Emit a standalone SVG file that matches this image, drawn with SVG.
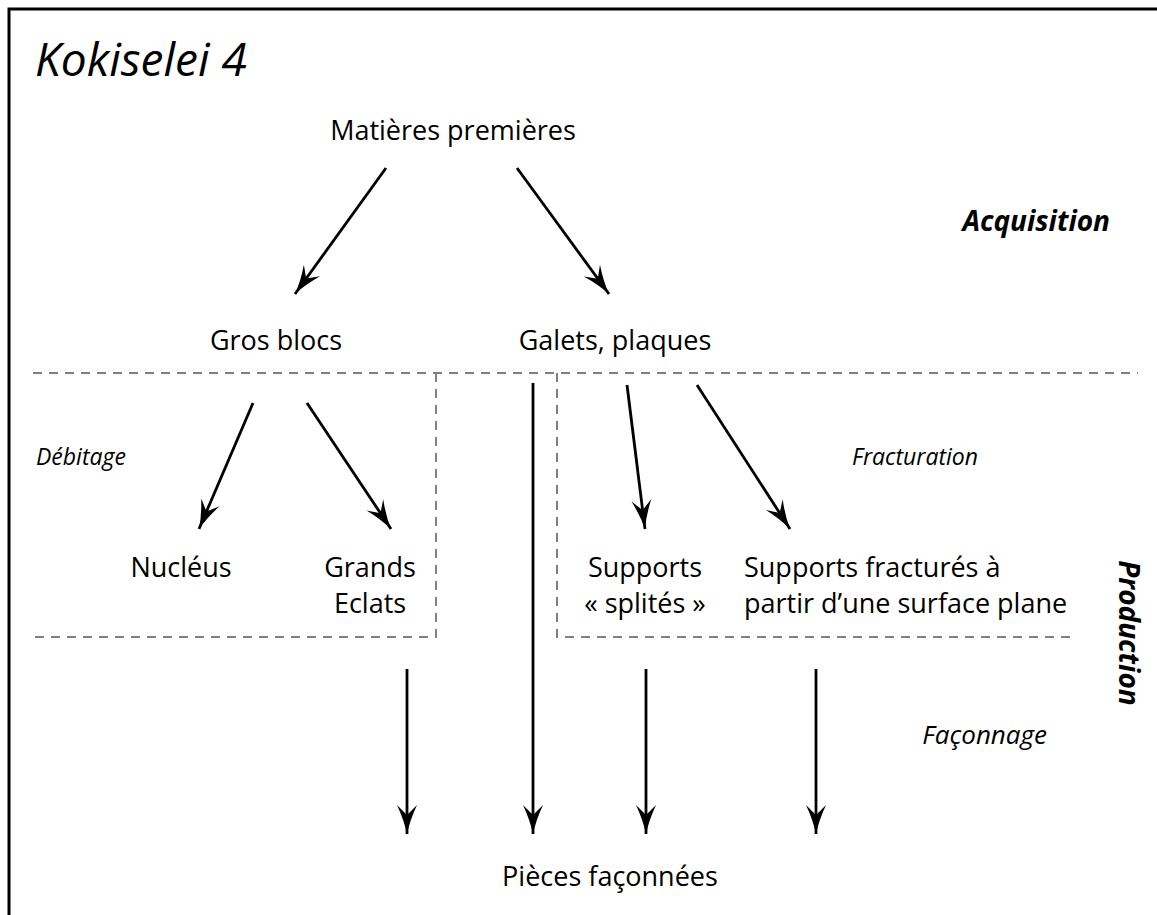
<svg xmlns="http://www.w3.org/2000/svg" width="1157" height="915" viewBox="0 0 1157 915">
<defs>
<style>
text{font-family:"Open Sans","Noto Sans","Liberation Sans",sans-serif;fill:#000}
.n{font-size:27px}
.t{font-size:46px;font-style:italic}
.s{font-size:23px;font-style:italic}
.b{font-size:28px;font-style:italic;font-weight:bold}
.dash{fill:none;stroke:#808080;stroke-width:2;stroke-dasharray:9 7}
.arr{fill:none;stroke:#000;stroke-width:2.8;marker-end:url(#ah)}
</style>
<marker id="ah" markerUnits="userSpaceOnUse" markerWidth="34" markerHeight="26" viewBox="-31 -13 33 26" refX="0" refY="0" orient="auto">
<path d="M0,0 Q-14,-3 -29,-10 L-19,0 L-29,10 Q-14,3 0,0 Z" fill="#000"/>
</marker>
</defs>
<g id="frame">
<path d="M9,915 V9 H1157" fill="none" stroke="#000" stroke-width="3"/>
</g>
<g id="regions">
<path class="dash" d="M33,373 H1138"/>
<path class="dash" d="M436,373 V637 H28"/>
<path class="dash" d="M557,373 V637 H1073"/>
</g>
<g id="title"><text class="t" x="35" y="76">Kokiselei 4</text></g>
<g id="matieres"><text class="n" x="453" y="140" text-anchor="middle">Matières premières</text></g>
<g id="acquisition"><text class="b" x="1110" y="231" text-anchor="end">Acquisition</text></g>
<g id="gros-blocs"><text class="n" x="276" y="350" text-anchor="middle">Gros blocs</text></g>
<g id="galets"><text class="n" x="615" y="350" text-anchor="middle">Galets, plaques</text></g>
<g id="debitage"><text class="s" x="36" y="465">Débitage</text></g>
<g id="fracturation"><text class="s" x="978" y="465" text-anchor="end">Fracturation</text></g>
<g id="nucleus"><text class="n" x="181" y="577" text-anchor="middle">Nucléus</text></g>
<g id="grands-eclats"><text class="n" x="370" y="577" text-anchor="middle">Grands</text><text class="n" x="370" y="613" text-anchor="middle">Eclats</text></g>
<g id="supports-splites"><text class="n" x="645" y="577" text-anchor="middle">Supports</text><text class="n" x="645" y="613" text-anchor="middle">« splités »</text></g>
<g id="supports-fractures"><text class="n" x="744" y="577">Supports fracturés à</text><text class="n" x="744" y="613">partir d’une surface plane</text></g>
<g id="production"><text class="b" transform="translate(1119,633) rotate(90)" text-anchor="middle">Production</text></g>
<g id="faconnage"><text class="s" x="1047" y="744" text-anchor="end" style="font-size:26px">Façonnage</text></g>
<g id="pieces"><text class="n" x="610" y="886" text-anchor="middle">Pièces façonnées</text></g>
<g id="connectors">
<path class="arr" d="M386,168 L295,294"/>
<path class="arr" d="M517,168 L609,294"/>
<path class="arr" d="M253,403 L199,529"/>
<path class="arr" d="M307,403 L391,529"/>
<path class="arr" d="M627,385 L645,529"/>
<path class="arr" d="M697,385 L790,529"/>
<path class="arr" d="M533,383 V834"/>
<path class="arr" d="M407,669 V834"/>
<path class="arr" d="M646,669 V834"/>
<path class="arr" d="M816,669 V834"/>
</g>
</svg>
